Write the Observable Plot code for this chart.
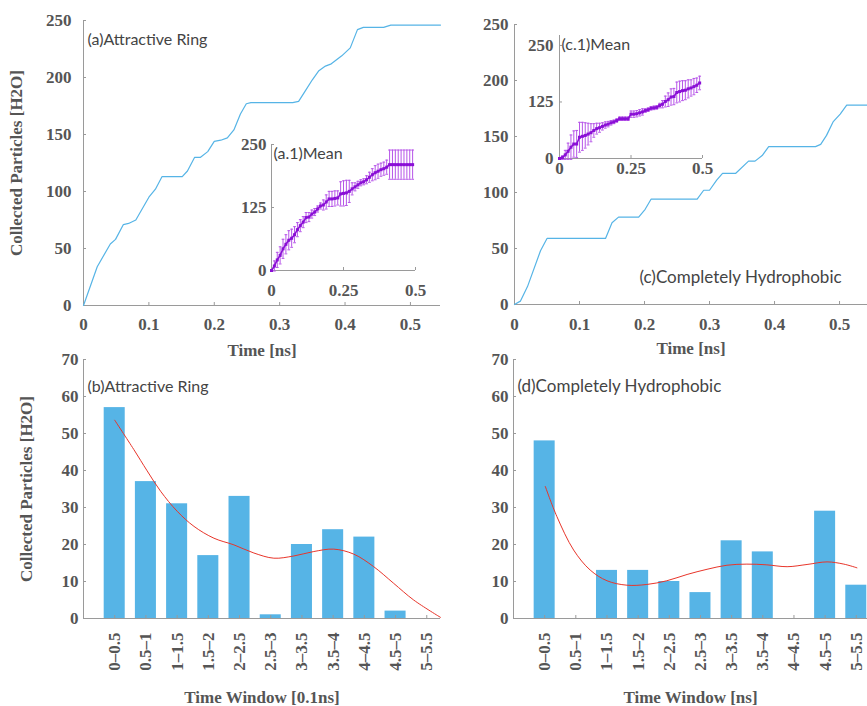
<!DOCTYPE html>
<html><head><meta charset="utf-8">
<script src="https://cdn.jsdelivr.net/npm/d3@7"></script>
<script src="https://cdn.jsdelivr.net/npm/@observablehq/plot@0.6"></script>
<style>body{margin:0;background:#fff} #chart{position:relative;width:867px;height:706px;overflow:hidden;background:#fff}</style>
</head><body><div id="chart"></div>
<script>
// ---------- data ----------
// (a) cumulative particles, attractive ring
const aTime  = [0,0.021,0.041,0.049,0.061,0.069,0.08,0.1,0.11,0.12,0.151,0.159,0.17,0.179,0.19,0.2,0.21,0.22,0.23,0.24,0.249,0.256,0.32,0.329,0.339,0.35,0.36,0.37,0.379,0.395,0.408,0.419,0.428,0.459,0.47,0.546];
const aCount = [0,34,54,58,71,72,75,95,102,113,113,118,130,130,135,144,145,147,154,168,177,178,178,179,188,198,206,210,212,219,226,242,244,244,246,246];
// (c) cumulative particles, completely hydrophobic
const cTime  = [0,0.009,0.02,0.04,0.05,0.14,0.15,0.16,0.191,0.201,0.21,0.281,0.291,0.3,0.311,0.32,0.34,0.36,0.37,0.381,0.391,0.463,0.471,0.48,0.49,0.501,0.511,0.543];
const cCount = [0,3,16,48,59,59,73,78,78,85,94,94,102,102,111,117,117,128,128,133,141,141,143,151,163,170,178,178];
// insets: mean with error bars
const meanTime = [0,0.01,0.02,0.03,0.04,0.05,0.06,0.07,0.08,0.09,0.1,0.11,0.12,0.13,0.14,0.15,0.16,0.17,0.18,0.19,0.2,0.21,0.22,0.23,0.24,0.25,0.26,0.27,0.28,0.29,0.3,0.31,0.32,0.33,0.34,0.35,0.36,0.37,0.38,0.39,0.4,0.41,0.42,0.43,0.44,0.45,0.46,0.47,0.48,0.49];
const a1Mean = [0,9,21,30,43,52,60,64,71,81,89,96,105,106,112,116,122,128,130,136,142,142,143,144,152,153,154,157,162,166,170,174,176,180,185,190,194,197,200,202,205,210,210,210,210,210,210,210,210,210];
const a1Err  = [0,10,15,17,19,19,19,18,16,14,12,11,10,9,8,7,6,6,10,14,15,15,15,14,24,25,25,22,12,8,7,6,6,8,10,12,14,14,13,13,14,29,29,29,29,29,29,29,29,29];
const c1Mean = [0,2,8,16,25,32,32,47,49,51,54,57,62,66,68,71,74,76,79,81,84,88,88,88,88,98,98,99,101,103,106,108,111,112,113,117,120,126,130,136,137,146,148,150,151,154,156,159,162,167];
const c1Err  = [0,4,10,18,27,29,30,33,31,28,24,20,15,12,10,8,7,6,5,4,4,4,4,4,4,7,7,7,7,7,4,4,4,4,4,5,8,12,15,18,18,23,23,22,21,20,18,18,16,15];
// (b),(d) particles per time window
const windows = ["0\u20130.5","0.5\u20131","1\u20131.5","1.5\u20132","2\u20132.5","2.5\u20133","3\u20133.5","3.5\u20134","4\u20134.5","4.5\u20135","5\u20135.5"];
const bValues = [57,37,31,17,33,1,20,24,22,2,0];
const dValues = [48,0,13,13,10,7,21,18,0,29,9];
// smooth fit curves (x in window-index units, 1 = first window)
const bFitX = [1,1.61,2.04,2.47,3.0,3.54,4.18,4.82,5.46,6.1,6.74,7.38,8.02,8.66,9.3,9.94,10.58,11.44];
const bFitY = [53.6,45.7,39.9,34.4,29,24.9,21.7,19.9,17.7,16.3,16.9,18.1,18.75,17.4,14,9.5,5,0.3];
const dFitX = [1.02,1.39,1.93,2.46,3.0,3.64,4.28,4.92,5.57,6.21,6.85,7.49,8.13,8.78,9.42,10.06,10.6,11.02];
const dFitY = [35.7,27.6,18.5,13.1,10.2,9.0,9.2,10.2,11.9,13.3,14.4,14.7,14.5,14.0,14.6,15.3,14.7,13.7];
const timeTicks = [0,0.1,0.2,0.3,0.4,0.5];
const countTicks = [0,50,100,150,200,250];
const insetXTicks = [0,0.25,0.5];
const insetYTicks = [0,125,250];
const windowTicks = [0,10,20,30,40,50,60,70];

// ---------- style ----------
const BLUE="#56b4e6", PURPLE="#8a0fd6", ERR="#b655e8", RED="#e8352a", AXIS="#9a9a9a", TXT="#555555", ANN="#444444";
const serif = "'Liberation Serif','Times New Roman',serif";
const sans = "Lato,'Open Sans',sans-serif";
const baseStyle = {fontFamily: serif, fontSize: "17px", fontWeight: "bold", color: TXT, background: "transparent", overflow: "visible"};
const chart = document.getElementById("chart");
function place(el, left, top){ el.style.position="absolute"; el.style.left=left+"px"; el.style.top=top+"px"; chart.appendChild(el); }
const cap = {draw(ctx, size){ const r = Math.sqrt(size/Math.PI); ctx.moveTo(-r,0); ctx.lineTo(r,0); }};
const plain = d => String(d);

function axes({xt, yt, xpad, ypad, xfmt, rotate}){
  return [
    Plot.ruleY([0],{stroke:AXIS}),
    Plot.ruleX([0],{stroke:AXIS}),
    Plot.axisX({ticks:xt, tickSize:-3, stroke:AXIS, tickFormat:()=>"", label:null}),
    Plot.axisY({ticks:yt, tickSize:-3, stroke:AXIS, tickFormat:()=>"", label:null}),
    Plot.axisX({ticks:xt, tickSize:0, tickPadding:xpad, tickFormat:xfmt||plain, tickRotate:rotate||0, label:null, fill:TXT}),
    Plot.axisY({ticks:yt, tickSize:0, tickPadding:ypad, tickFormat:plain, label:null, fill:TXT})
  ];
}
const ann = (s, o) => Plot.text([s], Object.assign({text:d=>d, textAnchor:"start", lineAnchor:"middle", fontFamily:sans, fontWeight:"normal", fontSize:16, fill:ANN}, o));
const title = (s, o) => Plot.text([s], Object.assign({text:d=>d, textAnchor:"middle", lineAnchor:"middle", fill:TXT}, o));

// ---------- (a) ----------
const aRows = aTime.map((t,i)=>({t, n:aCount[i]}));
place(Plot.plot({
  width:440, height:360, marginLeft:83, marginRight:0, marginTop:20, marginBottom:55,
  style:baseStyle, x:{domain:[0,0.546]}, y:{domain:[0,250]},
  marks:[
    ...axes({xt:timeTicks, yt:countTicks, xpad:12, ypad:12}),
    Plot.line(aRows,{x:"t", y:"n", stroke:BLUE, strokeWidth:1.2}),
    ann("(a)Attractive Ring",{frameAnchor:"top-left", dx:4, dy:19}),
    title("Time [ns]",{frameAnchor:"bottom", dy:45}),
    title("Collected Particles [H2O]",{frameAnchor:"left", dx:-67, rotate:-90})
  ]
}), 0, 0);

// ---------- (c) ----------
const cRows = cTime.map((t,i)=>({t, n:cCount[i]}));
place(Plot.plot({
  width:427, height:360, marginLeft:74, marginRight:0, marginTop:24, marginBottom:56,
  style:baseStyle, x:{domain:[0,0.543]}, y:{domain:[0,250]},
  marks:[
    ...axes({xt:timeTicks, yt:countTicks, xpad:13, ypad:6}),
    Plot.line(cRows,{x:"t", y:"n", stroke:BLUE, strokeWidth:1.2}),
    ann("(c)Completely Hydrophobic",{frameAnchor:"bottom-left", dx:125, dy:-27, fontSize:17}),
    title("Time [ns]",{frameAnchor:"bottom", dy:44})
  ]
}), 440, 0);

// ---------- insets ----------
function inset(mean, err, label, yMax, xpad, ypad, mt, mb, mr, ml, w, h){
  const rows = meanTime.map((t,i)=>({t, m:mean[i], e:err[i]}));
  return Plot.plot({
    width:w, height:h, marginLeft:ml, marginRight:mr, marginTop:mt, marginBottom:mb,
    style:baseStyle, x:{domain:[0,0.5]}, y:{domain:[0,yMax]},
    marks:[
      ...axes({xt:insetXTicks, yt:insetYTicks, xpad, ypad}),
      Plot.ruleX(rows,{x:"t", y1:d=>d.m-d.e, y2:d=>d.m+d.e, stroke:ERR, strokeWidth:1}),
      Plot.dot(rows,{x:"t", y:d=>d.m+d.e, symbol:cap, r:1.4, stroke:ERR, fill:"none", strokeWidth:1}),
      Plot.dot(rows,{x:"t", y:d=>d.m-d.e, symbol:cap, r:1.4, stroke:ERR, fill:"none", strokeWidth:1}),
      Plot.line(rows,{x:"t", y:"m", stroke:PURPLE, strokeWidth:1.6}),
      Plot.dot(rows,{x:"t", y:"m", symbol:"square", r:1.7, fill:PURPLE, stroke:"none"}),
      ann(label,{frameAnchor:"top-left", dx:2, dy:9, fontSize:16})
    ]
  });
}
place(inset(a1Mean, a1Err, "(a.1)Mean", 250, 13, 5, 14, 35, 5, 41, 190, 175), 230, 130);
place(inset(c1Mean, c1Err, "(c.1)Mean", 272, 3, 6, 15, 32, 8, 39, 190, 170), 520, 20);

// ---------- (b) & (d) ----------
function bars(values, fitX, fitY, label, xTitle, yTitle, ml, xMax, w){
  const rows = windows.map((c,i)=>({pos:i+1, c, v:values[i]}));
  const fit = fitX.map((x,i)=>({x, y:fitY[i]}));
  const marks = [
    Plot.rectY(rows,{x1:d=>d.pos-0.337, x2:d=>d.pos+0.337, y1:0, y2:"v", fill:BLUE}),
    Plot.line(fit,{x:"x", y:"y", stroke:RED, strokeWidth:1, curve:"catmull-rom"}),
    ...axes({xt:rows.map(d=>d.pos), yt:windowTicks, xpad:14, ypad:5, xfmt:p=>windows[p-1], rotate:-90}),
    ann(label,{frameAnchor:"top-left", dx:4, dy:27, fontSize:label.length>20?17:16}),
    title(xTitle,{frameAnchor:"bottom", dy:79})
  ];
  if (yTitle) marks.push(title(yTitle,{frameAnchor:"left", dx:-57, rotate:-90}));
  return Plot.plot({
    width:w, height:366, marginLeft:ml, marginRight:0, marginTop:19, marginBottom:88,
    style:baseStyle, x:{domain:[0,xMax]}, y:{domain:[0,70]}, marks
  });
}
place(bars(bValues, bFitX, bFitY, "(b)Attractive Ring", "Time Window [0.1ns]", "Collected Particles [H2O]", 83, 11.44, 440), 0, 340);
place(bars(dValues, dFitX, dFitY, "(d)Completely Hydrophobic", "Time Window [ns]", null, 73, 11.36, 427), 440, 340);
</script>
</body></html>
